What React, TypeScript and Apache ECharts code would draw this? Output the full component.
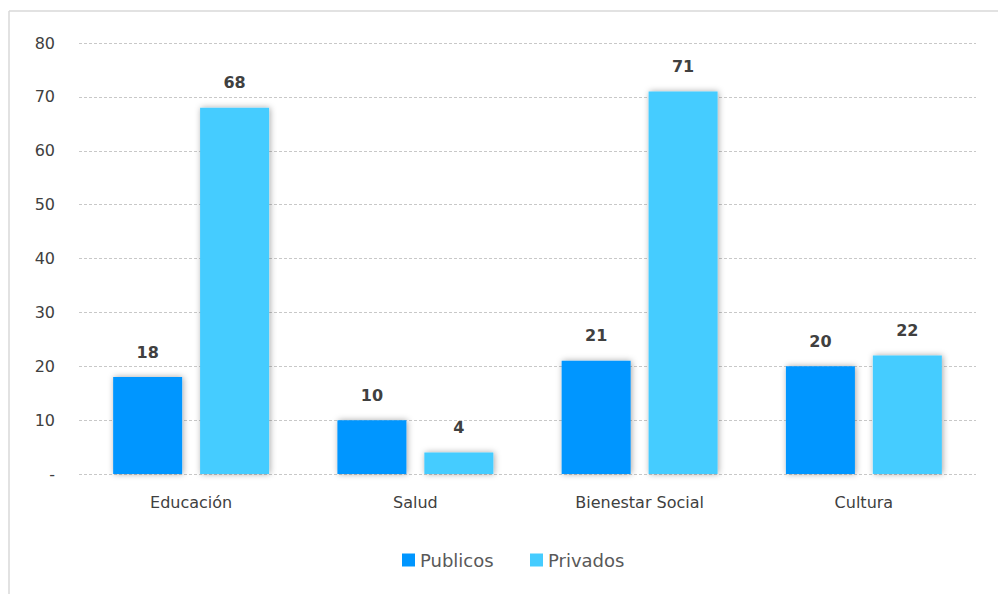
import React, { useEffect, useRef } from "react";
import * as echarts from "echarts";

const categories = ["Educación", "Salud", "Bienestar Social", "Cultura"];
const publicos = [18, 10, 21, 20];
const privados = [68, 4, 71, 22];
const seriesNames = ["Publicos", "Privados"];

export default function App() {
  const ref = useRef<HTMLDivElement>(null);
  useEffect(() => {
    document.body.style.margin = "0";
    const chart = echarts.init(ref.current!, null, { renderer: "svg" });
    const font = "'DejaVu Sans', Verdana, sans-serif";
    const shadow = {
      shadowColor: "rgba(0,0,0,0.35)",
      shadowBlur: 6,
      shadowOffsetX: 1,
      shadowOffsetY: 0,
    };
    const legendText = { fontFamily: font, fontSize: 18, color: "#595959", padding: [0, 0, 0, 0] };
    const labelStyle = {
      show: true,
      position: "top",
      distance: 17,
      fontFamily: font,
      fontSize: 16,
      fontWeight: "bold",
      color: "#404040",
    };
    chart.setOption({
      animation: false,
      backgroundColor: "#ffffff",
      graphic: [
        { type: "line", shape: { x1: 9, y1: 11, x2: 998, y2: 11 }, style: { stroke: "#d9d9d9", lineWidth: 1.5 } },
        { type: "line", shape: { x1: 9, y1: 11, x2: 9, y2: 594 }, style: { stroke: "#d9d9d9", lineWidth: 1.5 } },
      ],
      grid: { left: 79, right: 22, top: 43, height: 431, containLabel: false },
      legend: [
        {
          data: [seriesNames[0]],
          left: 397,
          top: 546,
          icon: "rect",
          itemWidth: 13,
          itemHeight: 13,
          textStyle: legendText,
        },
        {
          data: [seriesNames[1]],
          left: 525,
          top: 546,
          icon: "rect",
          itemWidth: 13,
          itemHeight: 13,
          textStyle: legendText,
        },
      ],
      xAxis: {
        type: "category",
        data: categories,
        axisLine: { show: false },
        axisTick: { show: false },
        axisLabel: { fontFamily: font, fontSize: 16, color: "#404040", margin: 20 },
      },
      yAxis: {
        type: "value",
        min: 0,
        max: 80,
        interval: 10,
        axisLine: { show: false },
        axisTick: { show: false },
        axisLabel: {
          fontFamily: font,
          fontSize: 16,
          color: "#404040",
          margin: 24,
          formatter: (v: number) => (v === 0 ? "-" : String(v)),
        },
        splitLine: { lineStyle: { color: "#c8c8c8", type: [3, 2], width: 1 } },
      },
      series: [
        {
          name: seriesNames[0],
          type: "bar",
          data: publicos,
          barWidth: 69,
          barGap: "26%",
          itemStyle: { color: "#0096FF", ...shadow },
          label: labelStyle,
        },
        {
          name: seriesNames[1],
          type: "bar",
          data: privados,
          barWidth: 69,
          barGap: "26%",
          itemStyle: { color: "#45CCFF", ...shadow },
          label: labelStyle,
        },
      ],
    });
    return () => chart.dispose();
  }, []);
  return <div ref={ref} style={{ position: "absolute", left: 0, top: 0, width: 998, height: 594 }} />;
}
